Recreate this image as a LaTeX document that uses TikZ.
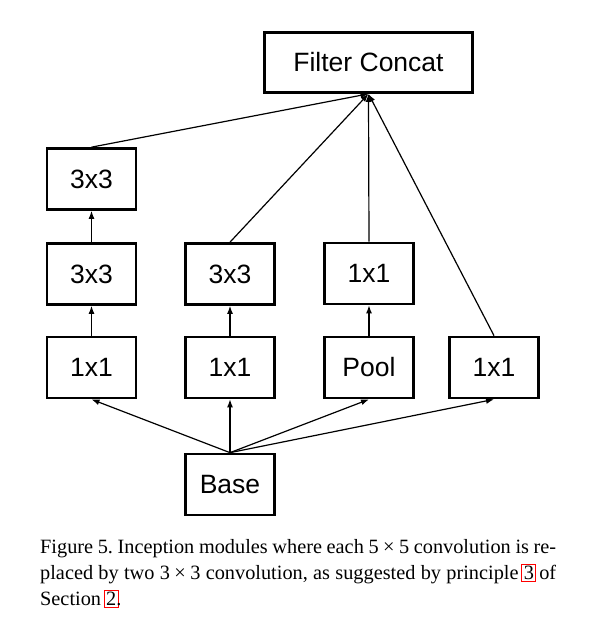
\documentclass[tikz,border=0pt]{standalone}
\usepackage{fontspec}
\setmainfont{Liberation Serif}
\newfontfamily\boxfont{Liberation Sans}
\usetikzlibrary{arrows.meta}

\newcommand\reflink[1]{\leavevmode\rlap{\kern-2.4pt\color{red}\setlength\fboxsep{1.5pt}\setlength\fboxrule{0.9pt}\fbox{\phantom{#1}}}#1}

\begin{document}
\begin{tikzpicture}[x=1pt,y=-1pt,
boxnode/.style={rectangle, draw=black, line width=2.7pt, minimum width=89pt, minimum height=61pt, inner sep=0pt, font=\boxfont\fontsize{26.5}{30}\selectfont},
conn/.style={line width=1.2pt, -{Latex[length=8pt,width=6pt]}}
]
    \useasboundingbox (0,0) rectangle (595,619);

    \node[boxnode, minimum width=208pt, minimum height=60pt] (concat) at (368.5,62.5){Filter Concat};

    \node[boxnode] (a3) at (91.5,179){3x3};
    \node[boxnode] (a2) at (91.5,274){3x3};
    \node[boxnode] (a1) at (91.5,367.5){1x1};

    \node[boxnode] (b2) at (230,274){3x3};
    \node[boxnode] (b1) at (230,367.5){1x1};

    \node[boxnode] (c2) at (369,273.5){1x1};
    \node[boxnode] (c1) at (369,367.5){Pool};

    \node[boxnode] (d1) at (494,367.5){1x1};

    \node[boxnode] (base) at (230,484.5){Base};

    \draw[conn] (base.north) -- (a1.south);
    \draw[conn] (base.north) -- (b1.south);
    \draw[conn] (base.north) -- (c1.south);
    \draw[conn] (base.north) -- (d1.south);

    \draw[conn] (a1) -- (a2);
    \draw[conn] (a2) -- (a3);
    \draw[conn] (b1) -- (b2);
    \draw[conn] (c1) -- (c2);

    \draw[conn] (a3.north) -- (concat.south);
    \draw[conn] (b2.north) -- (concat.south);
    \draw[conn] (c2.north) -- (concat.south);
    \draw[conn] (d1.north) -- (concat.south);

    \node[anchor=base west, text width=516pt, align=justify, inner sep=0pt, font=\fontsize{20.3}{26.4}\selectfont\frenchspacing] (caption) at (40,553)
    {Figure 5. Inception modules where each 5\hspace{0.22em}×\hspace{0.22em}5 convolution is re-\linebreak placed by two 3\hspace{0.22em}×\hspace{0.22em}3 convolution, as suggested by principle \reflink{3} of\linebreak Section \reflink{2}.};
\end{tikzpicture}
\end{document}
